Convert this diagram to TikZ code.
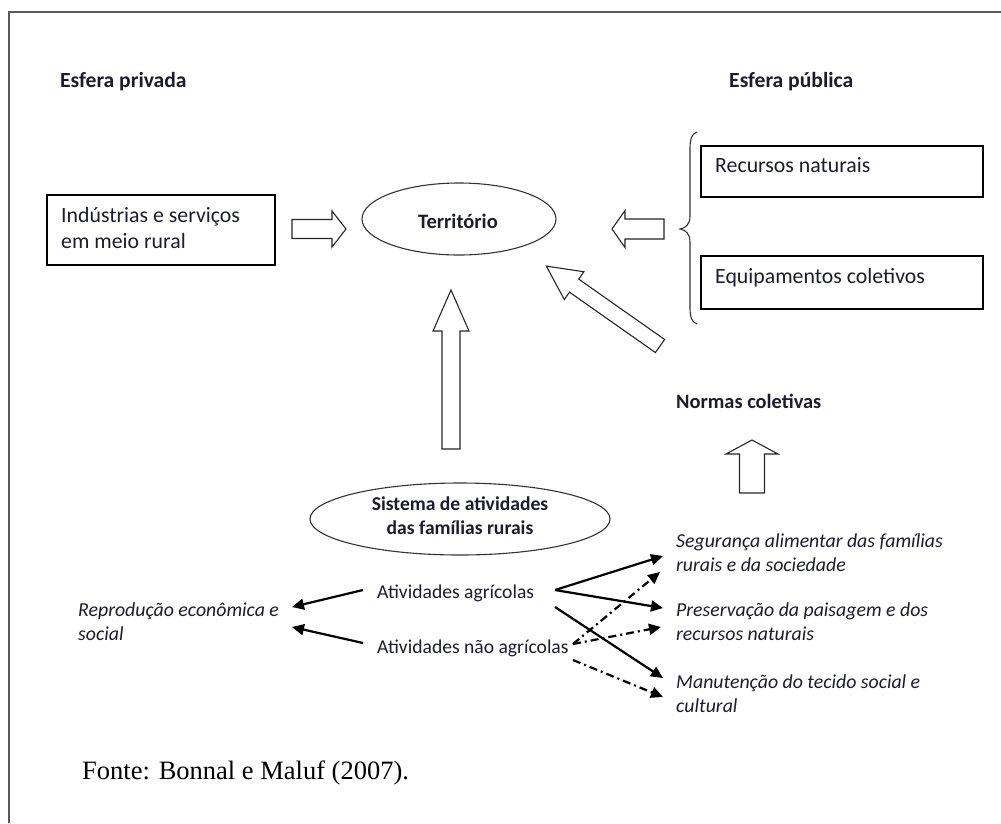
\documentclass[tikz,border=0pt]{standalone}
\usepackage{fontspec}
\usetikzlibrary{shapes.geometric,arrows.meta,calc}
\newfontfamily\carl{Carlito}
\newfontfamily\tnr{Liberation Serif}
\definecolor{ink}{HTML}{1C1C2C}
\definecolor{frame}{HTML}{5A5A5A}
\newcommand{\blockarr}[7]{%
  \begin{scope}[shift={(#1,#2)}, rotate=#3]
    \draw[blockarrow] (0,-#5) -- ({#4-#7},-#5) -- ({#4-#7},-#6) -- (#4,0) -- ({#4-#7},#6) -- ({#4-#7},#5) -- (0,#5) -- cycle;
  \end{scope}}
\tikzset{
  x=1pt, y=-1pt,
  txt/.style={inner sep=0pt, text=ink, font=\carl\fontsize{19.6}{24}\selectfont},
  big/.style={inner sep=0pt, text=ink, font=\carl\fontsize{21.8}{26}\selectfont},
  bigbold/.style={inner sep=0pt, text=ink, font=\carl\bfseries\fontsize{21.6}{26}\selectfont},
  bold/.style={txt, font=\carl\bfseries\fontsize{19.6}{24}\selectfont},
  ital/.style={txt, font=\carl\itshape\fontsize{19.8}{24}\selectfont, align=left},
  box/.style={draw=black, line width=1.8pt, rectangle, inner sep=0pt},
  oval/.style={draw=black!80, line width=1.1pt, ellipse, inner sep=0pt, align=center},
  blockarrow/.style={draw=black!85, fill=white, line width=1.1pt, line join=miter},
  solidarr/.style={line width=2.2pt, -{Triangle[length=12pt,width=11pt]}},
  dasharr/.style={line width=2.2pt, dash pattern=on 8pt off 4pt on 2pt off 4pt, -{Triangle[length=12pt,width=11pt]}}
}
\begin{document}
\begin{tikzpicture}
\useasboundingbox (0,0) rectangle (1001,823);
% frame
\draw[frame, line width=1.4pt] (9,823) -- (9,12) -- (1001,12);

% headings
\node[bigbold, anchor=west] (privada) at (60,82) {Esfera privada};
\node[bigbold, anchor=west] (publica) at (729,82) {Esfera pública};

% left box
\node[box, minimum width=228pt, minimum height=70pt, anchor=north west] (ind) at (46,194) {};
\node[big, anchor=west, align=left] (indtxt) at ($(ind.north west)+(15,34)$) {Indústrias e serviços\\em meio rural};

% territory
\node[oval, minimum width=194pt, minimum height=72pt] (terr) at (459,219) {};
\node[bold, font=\carl\bfseries\fontsize{20.5}{24}\selectfont] (terrtxt) at (458,221) {Território};

% right boxes
\node[box, minimum width=282pt, minimum height=51pt, anchor=north west] (rec) at (700,145) {};
\node[big, anchor=west] (rectxt) at ($(rec.north west)+(15,20)$) {Recursos naturais};
\node[box, minimum width=282pt, minimum height=53pt, anchor=north west] (equ) at (700,255) {};
\node[big, anchor=west] (equtxt) at ($(equ.north west)+(15,23)$) {Equipamentos coletivos};

% brace
\coordinate (brtop) at (697,132);
\coordinate (brtip) at (680,229);
\coordinate (brbot) at (697,324);
\draw[black!80, line width=1.1pt] (brtop) .. controls (691,134) and (690,140) .. (690,150) -- (690,216)
  .. controls (690,224) and (686,228) .. (brtip) .. controls (686,230) and (690,234) .. (690,242)
  -- (690,308) .. controls (690,318) and (692,322) .. (brbot);

% block arrows
\blockarr{292}{229}{0}{54}{9.5}{18}{14}
\blockarr{664}{229}{180}{52}{10}{18.5}{13}
\blockarr{451}{449}{90}{159}{9}{18}{41}
\blockarr{660}{346}{144.9}{139}{8}{17}{34}
\blockarr{752}{493}{90}{53}{12.5}{26}{14}

\node[bold, anchor=west, font=\carl\bfseries\fontsize{20.4}{24}\selectfont] (normas) at (676,401) {Normas coletivas};

% system ellipse
\node[oval, minimum width=300pt, minimum height=72pt] (sist) at (460,519) {};
\node[bold, align=center] (sisttxt) at (460,516) {Sistema de atividades\\das famílias rurais};

% activities
\node[txt, anchor=west] (agric) at (377,593) {Atividades agrícolas};
\node[txt, anchor=west] (nagric) at (377,648) {Atividades não agrícolas};

\node[ital, anchor=west] (repro) at (78,622) {Reprodução econômica e\\social};

\node[ital, anchor=west] (seg) at (676,553) {Segurança alimentar das famílias\\rurais e da sociedade};
\node[ital, anchor=west] (pres) at (676,622) {Preservação da paisagem e dos\\recursos naturais};
\node[ital, anchor=west] (man) at (676,694) {Manutenção do tecido social e\\cultural};

% connector ends
\coordinate (ag1) at (363,590);
\coordinate (na1) at (363,643);
\coordinate (rp1) at (292,607);
\coordinate (rp2) at (292,627);
\coordinate (ag2) at (555,590);
\coordinate (ag3) at (555,607);
\coordinate (na2) at (573,644);
\coordinate (na3) at (573,660);
\coordinate (sg1) at (663,556);
\coordinate (sg2) at (660,572);
\coordinate (pr1) at (663,608);
\coordinate (pr2) at (661,627);
\coordinate (mn1) at (663,678);
\coordinate (mn2) at (663,697);

\draw[solidarr] (ag1) -- (rp1);
\draw[solidarr] (na1) -- (rp2);
\draw[solidarr] (ag2) -- (sg1);
\draw[solidarr] (ag2) -- (pr1);
\draw[solidarr] (ag3) -- (mn1);
\draw[dasharr] (na2) -- (sg2);
\draw[dasharr] (na2) -- (pr2);
\draw[dasharr] (na3) -- (mn2);

% source
\node[inner sep=0pt, anchor=west, font=\tnr\fontsize{26.5}{30}\selectfont] (fonte) at (82,773) {Fonte: Bonnal e Maluf (2007).};
\end{tikzpicture}
\end{document}
